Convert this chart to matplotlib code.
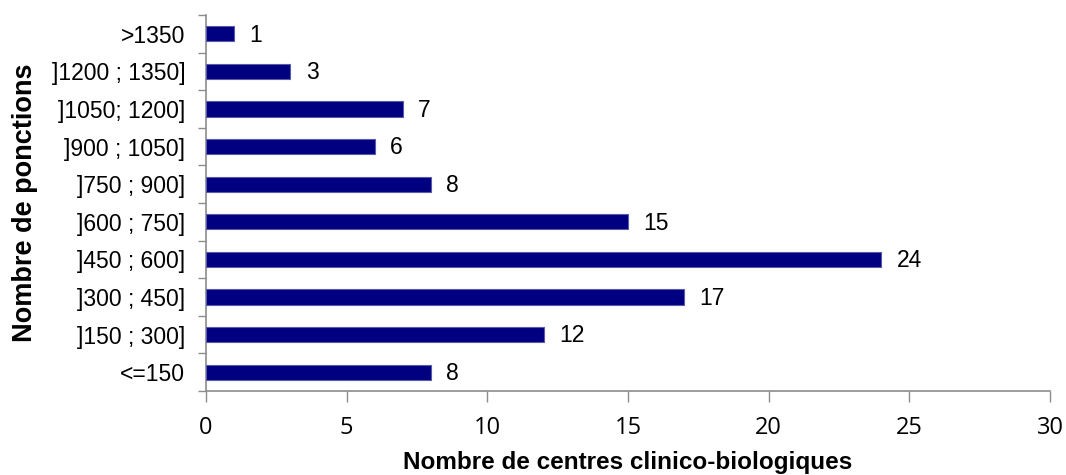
import matplotlib
matplotlib.use("Agg")
import matplotlib.pyplot as plt
import numpy as np

categories = ["<=150", "]150 ; 300]", "]300 ; 450]", "]450 ; 600]", "]600 ; 750]",
              "]750 ; 900]", "]900 ; 1050]", "]1050; 1200]", "]1200 ; 1350]", ">1350"]
values = [8, 12, 17, 24, 15, 8, 6, 7, 3, 1]
xticks = [0, 5, 10, 15, 20, 25, 30]

fig = plt.figure(figsize=(10.66, 4.75), dpi=100)
ax = fig.add_axes([206/1066, 1 - 391/475, (1050 - 206)/1066, (391 - 15)/475])

y = np.arange(len(categories))
ax.barh(y, values, height=0.4, color="#000080", edgecolor="#5a5aa8", linewidth=0.8, zorder=3)

for yi, v in zip(y, values):
    ax.annotate(str(v), xy=(v, yi), xytext=(11, -1), textcoords="offset points",
                va="center", ha="left", fontsize=16.5, family="Liberation Sans", color="black")

ax.set_xlim(0, 30)
ax.set_ylim(-0.5, len(categories) - 0.5)

# x axis
ax.set_xticks(xticks)
ax.set_xticklabels([str(t) for t in xticks], fontsize=17, family="Open Sans")
ax.tick_params(axis="x", direction="out", length=8, width=1, color="#8c8c8c", pad=10)

# y axis: labels at centers, ticks at boundaries
ax.set_yticks(y)
ax.set_yticklabels(categories, fontsize=16.5, family="Liberation Sans")
ax.tick_params(axis="y", which="major", length=0, pad=15)
ax.set_yticks(np.arange(-0.5, len(categories), 1.0), minor=True)
ax.tick_params(axis="y", which="minor", direction="out", length=6, width=1, color="#8c8c8c")

for s in ["top", "right"]:
    ax.spines[s].set_visible(False)
for s in ["left", "bottom"]:
    ax.spines[s].set_color("#8c8c8c")
    ax.spines[s].set_linewidth(1.2)

ax.set_xlabel("Nombre de centres clinico-biologiques", fontsize=17.5, fontweight="bold",
              family="Liberation Sans", labelpad=8)
ax.set_ylabel("Nombre de ponctions", fontsize=19.5, fontweight="bold",
              family="Liberation Sans", labelpad=10)

fig.savefig("out.png", dpi=100)
